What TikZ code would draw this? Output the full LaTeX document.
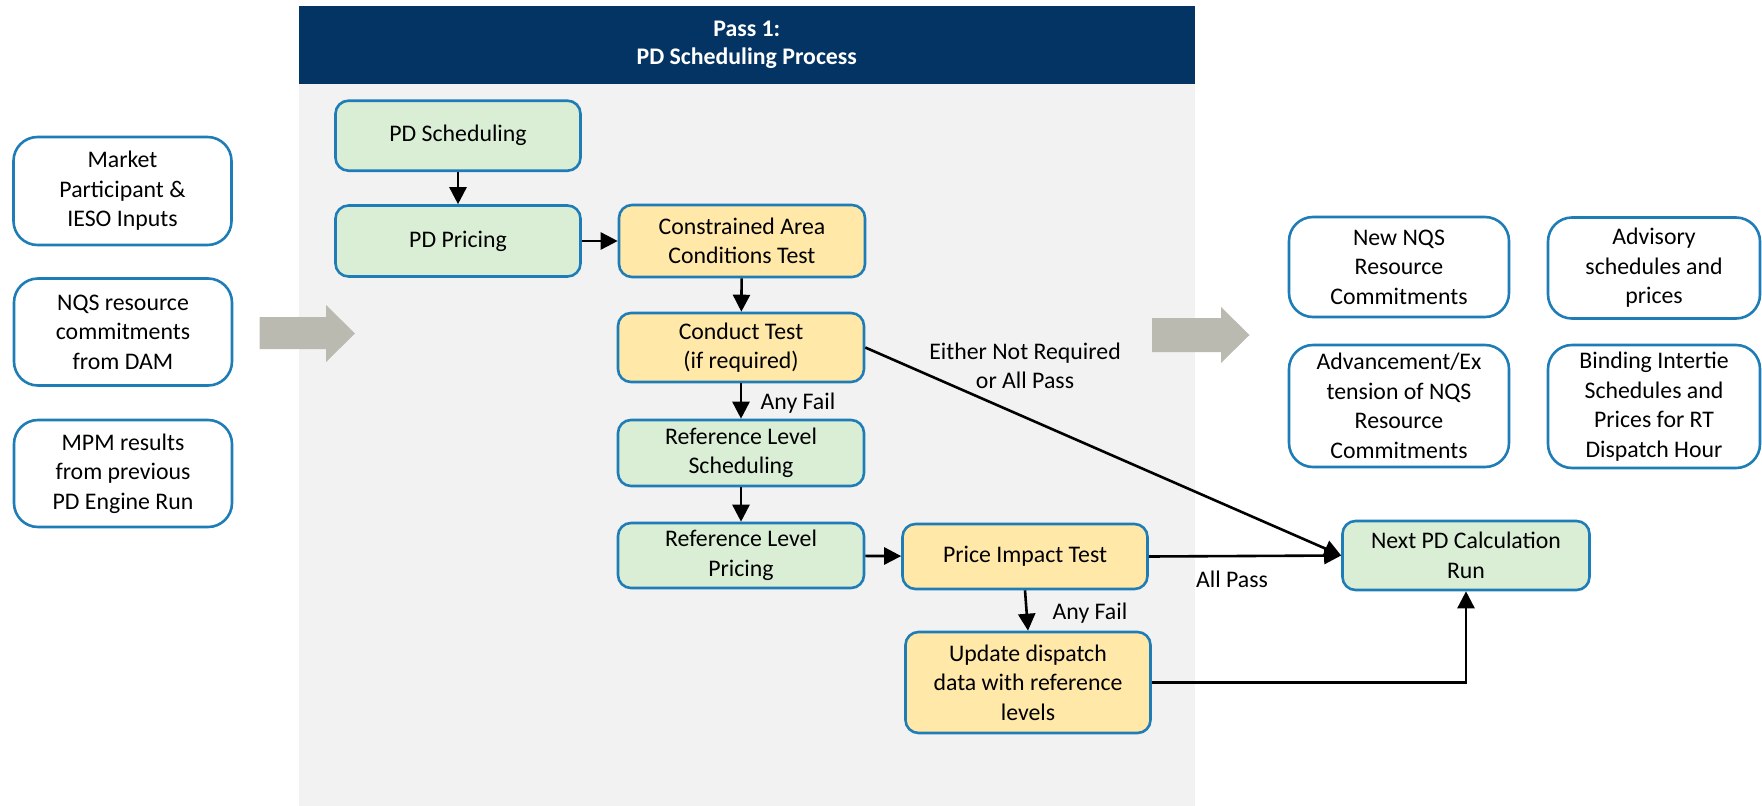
\documentclass[tikz,border=0pt]{standalone}
\usepackage{fontspec}
\setmainfont{Carlito}
\usetikzlibrary{arrows.meta}
\definecolor{hdrblue}{RGB}{3,52,100}
\definecolor{panelgray}{RGB}{242,242,242}
\definecolor{boxblue}{RGB}{30,125,182}
\definecolor{greenfill}{RGB}{218,238,213}
\definecolor{yellowfill}{RGB}{255,232,168}
\definecolor{bigarrow}{RGB}{186,186,177}
\tikzset{
  basebox/.style={draw=boxblue, line width=2.6pt, align=center, inner sep=0pt,
    font=\fontsize{23.8}{29.5}\selectfont},
  greenbox/.style={basebox, fill=greenfill, rounded corners=13pt},
  yellowbox/.style={basebox, fill=yellowfill, rounded corners=13pt},
  whitebox/.style={basebox, fill=white, rounded corners=24pt},
  conn/.style={line width=2.6pt, -{Triangle[length=17pt,width=17pt]}},
  lbl/.style={font=\fontsize{23.8}{29}\selectfont, align=center, inner sep=0pt},
  fatarrow/.style={fill=bigarrow}
}
\begin{document}
\begin{tikzpicture}[x=1pt,y=-1pt]
\useasboundingbox (0,0) rectangle (1762,806);
% panel and header
\fill[panelgray] (299,84.3) rectangle (1194.5,806);
\fill[hdrblue] (299,5.6) rectangle (1194.5,84.3);
\node[lbl, text=white, font=\bfseries\fontsize{23.8}{28}\selectfont] (hdr) at (746.8,45) {Pass 1:\\PD Scheduling Process};

% left input boxes
\node[whitebox, minimum width=218pt, minimum height=108pt] (mkt) at (122.5,191) {Market\\Participant \&\\IESO Inputs};
\node[whitebox, minimum width=218pt, minimum height=107pt] (nqs) at (123,332) {NQS resource\\commitments\\from DAM};
\node[whitebox, minimum width=218pt, minimum height=107pt] (mpm) at (123,473.5) {MPM results\\from previous\\PD Engine Run};

% big gray arrows
\fill[fatarrow] (259.6,317) -- (326,317) -- (326,305) -- (355,333.5) -- (326,362) -- (326,349) -- (259.6,349) -- cycle;
\fill[fatarrow] (1152,318) -- (1221,318) -- (1221,307) -- (1249.5,335) -- (1221,363) -- (1221,352) -- (1152,352) -- cycle;

% process boxes
\node[greenbox, minimum width=245pt, minimum height=70pt] (pds) at (458,135.7) {PD Scheduling};
\node[greenbox, minimum width=245pt, minimum height=71pt] (pdp) at (458,241) {PD Pricing};
\node[yellowbox, minimum width=246pt, minimum height=72pt] (cac) at (742,241) {Constrained Area\\Conditions Test};
\node[yellowbox, minimum width=246pt, minimum height=69pt] (cond) at (741,347.5) {Conduct Test\\(if required)};
\node[greenbox, minimum width=246pt, minimum height=66pt] (rls) at (741,453) {Reference Level\\Scheduling};
\node[greenbox, minimum width=246pt, minimum height=65pt] (rlp) at (741,555.5) {Reference Level\\Pricing};
\node[yellowbox, minimum width=245pt, minimum height=65pt] (pit) at (1025,556.5) {Price Impact Test};
\node[yellowbox, minimum width=245pt, minimum height=101pt] (upd) at (1028,682.5) {Update dispatch\\data with reference\\levels};
\node[greenbox, minimum width=247pt, minimum height=69pt] (next) at (1466,555.5) {Next PD Calculation\\Run};

% output boxes
\node[whitebox, minimum width=220pt, minimum height=100pt] (newnqs) at (1399,267) {New NQS\\Resource\\Commitments};
\node[whitebox, minimum width=212pt, minimum height=101pt] (adv) at (1654,268) {Advisory\\schedules and\\prices};
\node[whitebox, minimum width=220pt, minimum height=122pt] (advx) at (1399,406) {Advancement/Ex\\tension of NQS\\Resource\\Commitments};
\node[whitebox, minimum width=212pt, minimum height=123pt] (bind) at (1654,406.5) {Binding Intertie\\Schedules and\\Prices for RT\\Dispatch Hour};

% connectors
\draw[conn] (pds) -- (pdp);
\draw[conn] (pdp) -- (cac);
\draw[conn] (cac) -- (cond);
\draw[conn] (cond) -- (rls);
\draw[conn] (rls) -- (rlp);
\draw[conn] (rlp) -- (pit);
\draw[conn] (cond.east) -- (next.west);
\draw[conn] (pit.east) -- (next.west);
\draw[conn] (pit.south) -- (upd.north);
\draw[conn] (upd.east) -| (next.south);

% labels
\node[lbl] (l1) at (798,403) {Any Fail};
\node[lbl] (l2) at (1025,366) {Either Not Required\\or All Pass};
\node[lbl] (l3) at (1232,579) {All Pass};
\node[lbl] (l4) at (1090,612.7) {Any Fail};
\end{tikzpicture}
\end{document}
